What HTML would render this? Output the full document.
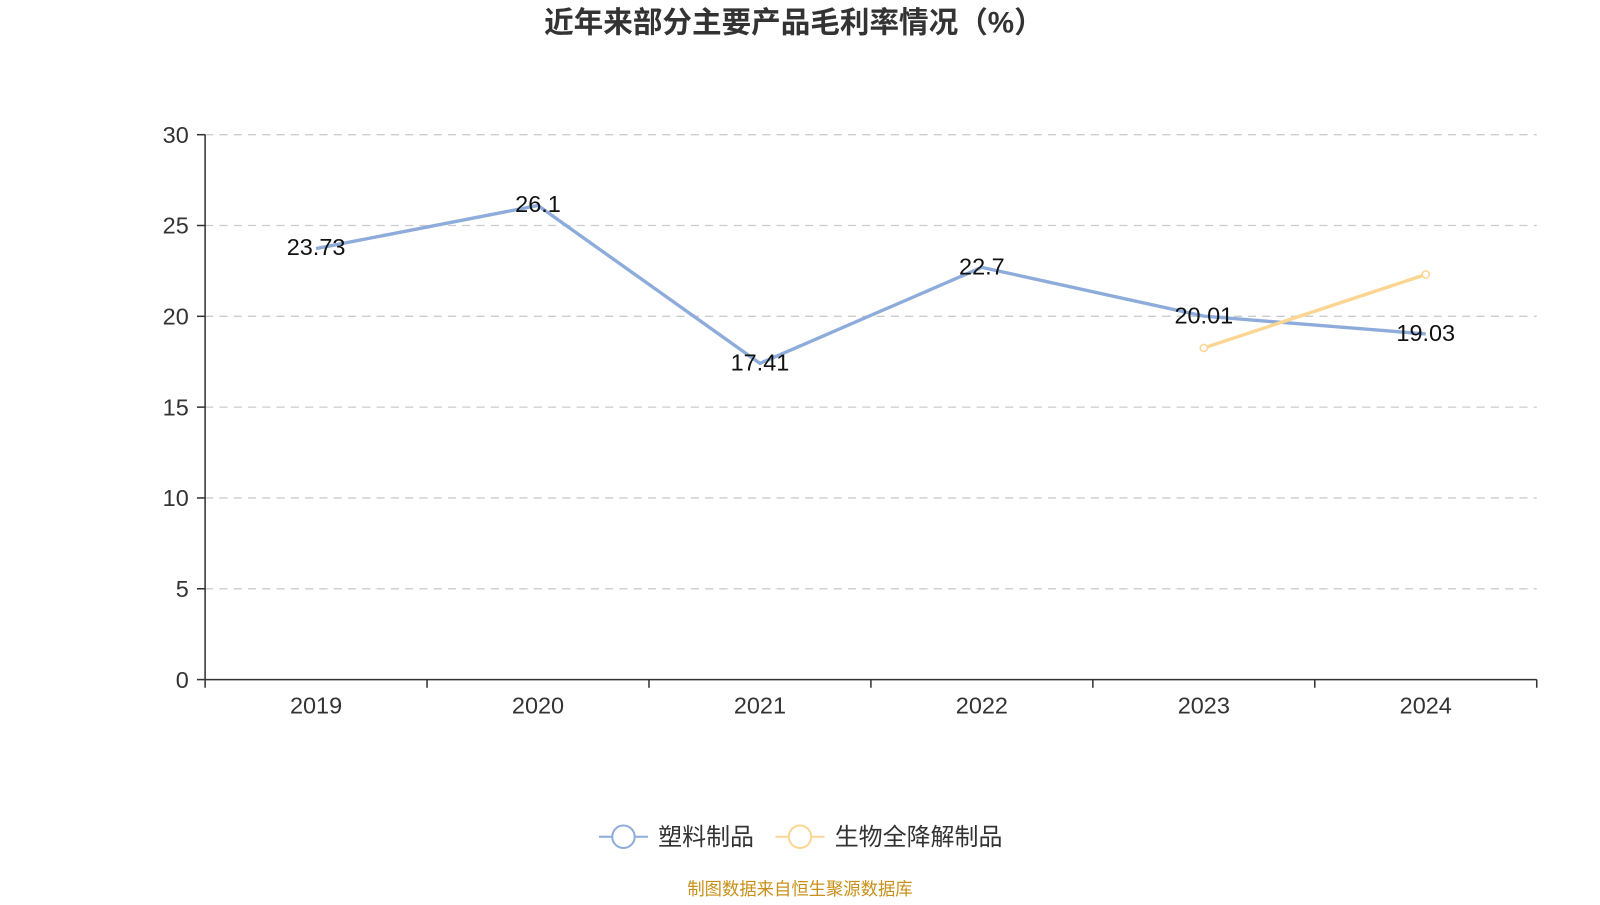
<!DOCTYPE html>
<html><head><meta charset="utf-8"><style>
body{margin:0;background:#fff;}
text{font-family:"Liberation Sans","Noto Sans CJK SC",sans-serif;}
</style></head><body>
<svg width="1600" height="900" viewBox="0 0 1568 882" xmlns="http://www.w3.org/2000/svg">
<text x="778" y="32" text-anchor="middle" font-size="29" font-weight="bold" fill="#333">近年来部分主要产品毛利率情况（%）</text>
<g stroke="#ccc" stroke-dasharray="8,6" stroke-width="1.3">
<line x1="201" x2="1506" y1="132" y2="132"/>
<line x1="201" x2="1506" y1="221" y2="221"/>
<line x1="201" x2="1506" y1="310" y2="310"/>
<line x1="201" x2="1506" y1="399" y2="399"/>
<line x1="201" x2="1506" y1="488" y2="488"/>
<line x1="201" x2="1506" y1="577" y2="577"/>
</g>
<g stroke="#333" stroke-width="1.5">
<line x1="201" x2="201" y1="132" y2="666"/>
<line x1="201" x2="1506" y1="666" y2="666"/>
<line x1="193" x2="201" y1="132" y2="132"/><line x1="193" x2="201" y1="221" y2="221"/><line x1="193" x2="201" y1="310" y2="310"/><line x1="193" x2="201" y1="399" y2="399"/><line x1="193" x2="201" y1="488" y2="488"/><line x1="193" x2="201" y1="577" y2="577"/><line x1="193" x2="201" y1="666" y2="666"/>
<line x1="201" x2="201" y1="666" y2="674"/><line x1="418.5" x2="418.5" y1="666" y2="674"/><line x1="636" x2="636" y1="666" y2="674"/><line x1="853.5" x2="853.5" y1="666" y2="674"/><line x1="1071" x2="1071" y1="666" y2="674"/><line x1="1288.5" x2="1288.5" y1="666" y2="674"/><line x1="1506" x2="1506" y1="666" y2="674"/>
</g>
<g font-size="23" fill="#333" text-anchor="end">
<text x="185" y="140">30</text><text x="185" y="229">25</text><text x="185" y="318">20</text><text x="185" y="407">15</text><text x="185" y="496">10</text><text x="185" y="585">5</text><text x="185" y="674">0</text>
</g>
<g font-size="23" fill="#333" text-anchor="middle">
<text x="309.75" y="699">2019</text><text x="527.25" y="699">2020</text><text x="744.75" y="699">2021</text><text x="962.25" y="699">2022</text><text x="1179.75" y="699">2023</text><text x="1397.25" y="699">2024</text>
</g>
<polyline fill="none" stroke="#8eacdb" stroke-width="3.3" stroke-linejoin="round" points="309.75,243.6 527.25,201.4 744.75,356.1 962.25,262 1179.75,309.8 1397.25,327.3"/>
<polyline fill="none" stroke="#fbd592" stroke-width="3.3" points="1179.75,341 1397.25,269"/>
<circle cx="1179.75" cy="341" r="3.5" fill="#fff" stroke="#fbd592" stroke-width="1.5"/>
<circle cx="1397.25" cy="269" r="3.5" fill="#fff" stroke="#fbd592" stroke-width="1.5"/>
<g font-size="23" fill="#111" text-anchor="middle">
<text x="309.75" y="250">23.73</text><text x="527.25" y="208">26.1</text><text x="744.75" y="363">17.41</text><text x="962.25" y="269">22.7</text><text x="1179.75" y="317">20.01</text><text x="1397.25" y="334">19.03</text>
</g>
<line x1="587" x2="635" y1="820" y2="820" stroke="#8eacdb" stroke-width="2"/>
<circle cx="611" cy="820" r="11" fill="#fff" stroke="#8eacdb" stroke-width="2"/>
<text x="645" y="828" font-size="23.5" fill="#333">塑料制品</text>
<line x1="760" x2="808" y1="820" y2="820" stroke="#fbd592" stroke-width="2"/>
<circle cx="784" cy="820" r="11" fill="#fff" stroke="#fbd592" stroke-width="2"/>
<text x="818" y="828" font-size="23.5" fill="#333">生物全降解制品</text>
<text x="784" y="877" font-size="17" fill="#c8901a" text-anchor="middle">制图数据来自恒生聚源数据库</text>
</svg>
</body></html>
